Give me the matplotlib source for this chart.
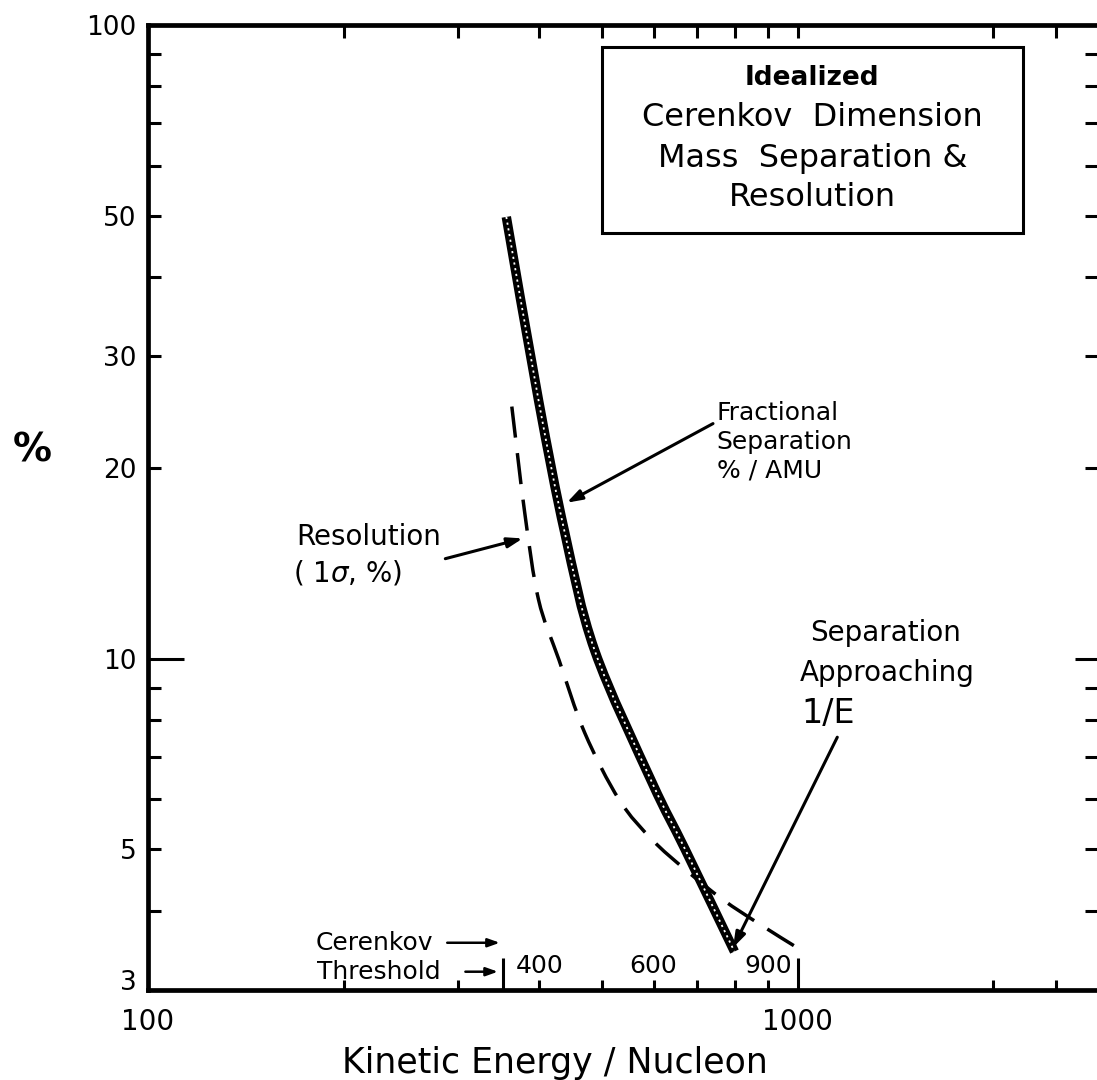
import numpy as np
import matplotlib
matplotlib.use("Agg")
import matplotlib.pyplot as plt
from matplotlib.ticker import FixedLocator, FixedFormatter, NullLocator
from matplotlib.patches import Rectangle, PathPatch
from matplotlib.path import Path

plt.rcParams['font.family'] = ['DejaVu Sans']

# Kinetic energy per nucleon (MeV/n) and curve values (%)
frac_energy = [356, 399, 438, 487, 597, 671, 799]
frac_sep = [49.8, 25.6, 15.8, 10.3, 6.37, 5.00, 3.45]

res_energy = [363, 380, 399, 429, 470, 531, 597, 671, 766, 874, 993]
res_sigma = [25.0, 17.0, 12.4, 9.96, 7.64, 5.99, 5.18, 4.65, 4.17, 3.81, 3.51]

threshold_energy = 352

y_ticks = [3, 4, 5, 6, 7, 8, 9, 10, 20, 30, 40, 50, 60, 70, 80, 90, 100]
y_labels = ['3', '', '5', '', '', '', '', '10', '20', '30', '', '50', '', '', '', '', '100']
x_ticks = [100, 200, 300, threshold_energy, 400, 500, 600, 700, 800, 900, 1000, 2000, 2500]
x_labels = ['100', '', '', '', '', '', '', '', '', '', '1000', '', '']
inner_x_labels = [400, 600, 900]


def smooth_path(xs, ys):
    """Hand-drawn style curve: cubic Bezier segments through the points in log-log space."""
    pts = np.column_stack([np.log10(xs), np.log10(ys)])
    n = len(pts)
    verts = [pts[0]]
    codes = [Path.MOVETO]
    for i in range(n - 1):
        p0 = pts[i - 1] if i > 0 else pts[i]
        p1, p2 = pts[i], pts[i + 1]
        p3 = pts[i + 2] if i + 2 < n else pts[i + 1]
        verts += [p1 + (p2 - p0) / 6.0, p2 - (p3 - p1) / 6.0, p2]
        codes += [Path.CURVE4] * 3
    return Path(10.0 ** np.array(verts), codes)


fig = plt.figure(figsize=(10.97, 10.80), dpi=100)
ax = fig.add_axes([0.1349, 0.0833, 0.8715, 0.8935])
ax.set_xscale('log')
ax.set_yscale('log')
ax.set_xlim(100, 2960)
ax.set_ylim(3, 100)

for s in ax.spines.values():
    s.set_linewidth(3.4)

ax.xaxis.set_major_locator(FixedLocator(x_ticks))
ax.xaxis.set_major_formatter(FixedFormatter(x_labels))
ax.xaxis.set_minor_locator(NullLocator())
ax.yaxis.set_major_locator(FixedLocator(y_ticks))
ax.yaxis.set_major_formatter(FixedFormatter(y_labels))
ax.yaxis.set_minor_locator(NullLocator())

ax.tick_params(axis='both', which='major', direction='in', width=2.2,
               length=9, top=True, right=True)
ax.tick_params(axis='y', pad=8, labelsize=19)
ax.tick_params(axis='x', pad=13, labelsize=20)

# the lowest y label sits a little above its tick, clear of the x labels
ax.yaxis.get_major_ticks()[0].label1.set_verticalalignment('baseline')

# longer ticks at 10 % and at 1000 / threshold
for val, t in zip(y_ticks, ax.yaxis.get_major_ticks()):
    if val == 10:
        t.tick1line.set_markersize(26)
        t.tick2line.set_markersize(21)
    else:
        t.tick2line.set_markersize(14)
for val, t in zip(x_ticks, ax.xaxis.get_major_ticks()):
    if val in (threshold_energy, 1000):
        t.tick1line.set_markersize(23)
        t.tick2line.set_markersize(0 if val == threshold_energy else 9)
    else:
        t.tick1line.set_markersize(7)

# fractional separation: heavy band with a broken light core
frac_path = smooth_path(frac_energy, frac_sep)
ax.add_patch(PathPatch(frac_path, fill=False, edgecolor='black', lw=6.8,
                       capstyle='butt', zorder=3))
ax.add_patch(PathPatch(frac_path, fill=False, edgecolor='white', lw=1.3,
                       ls=(0, (1.2, 2.0)), zorder=4))

# resolution: dashed
ax.add_patch(PathPatch(smooth_path(res_energy, res_sigma), fill=False, edgecolor='black',
                       lw=2.5, ls=(0, (9, 4.5)), zorder=3))

tf = ax.transAxes
arrow_kw = dict(arrowstyle='-|>,head_length=0.9,head_width=0.3', color='black', lw=2.2,
                shrinkA=0, shrinkB=0)

# title box
ax.add_patch(Rectangle((0.475, 0.784), 0.440, 0.193, transform=tf, fill=False,
                       lw=2.2, edgecolor='black', zorder=2))
box_lines = ['Idealized', 'Cerenkov  Dimension', 'Mass  Separation &', 'Resolution']
box_y = [0.945, 0.904, 0.862, 0.821]
box_size = [19, 23, 23, 23]
box_weight = ['bold', 'normal', 'normal', 'normal']
for txt, yy, fs, fw in zip(box_lines, box_y, box_size, box_weight):
    ax.text(0.695, yy, txt, transform=tf, ha='center', va='center', fontsize=fs,
            fontweight=fw)

# fractional separation label
for txt, yy in zip(['Fractional', 'Separation', '% / AMU'], [0.598, 0.568, 0.538]):
    ax.text(0.595, yy, txt, transform=tf, ha='left', va='center', fontsize=18)
ax.annotate('', xy=(0.438, 0.505), xytext=(0.591, 0.587), xycoords=tf, textcoords=tf,
            arrowprops=arrow_kw)

# resolution label
ax.text(0.155, 0.469, 'Resolution', transform=tf, ha='left', va='center', fontsize=20)
ax.text(0.152, 0.432, '( 1$\\sigma$, %)', transform=tf, ha='left', va='center', fontsize=20)
ax.annotate('', xy=(0.392, 0.468), xytext=(0.311, 0.447), xycoords=tf, textcoords=tf,
            arrowprops=arrow_kw)

# separation approaching 1/E
ax.text(0.772, 0.370, 'Separation', transform=tf, ha='center', va='center', fontsize=20)
ax.text(0.773, 0.329, 'Approaching', transform=tf, ha='center', va='center', fontsize=20)
ax.text(0.683, 0.287, '1/E', transform=tf, ha='left', va='center', fontsize=24)
ax.annotate('', xy=(0.612, 0.044), xytext=(0.721, 0.262), xycoords=tf, textcoords=tf,
            arrowprops=arrow_kw)

# Cerenkov threshold marker
ax.text(0.175, 0.049, 'Cerenkov', transform=tf, ha='left', va='center', fontsize=18)
ax.text(0.177, 0.019, 'Threshold', transform=tf, ha='left', va='center', fontsize=18)
small_arrow = dict(arrowstyle='-|>,head_length=0.7,head_width=0.25',
                   color='black', lw=1.8, shrinkA=0, shrinkB=0)
ax.annotate('', xy=(0.368, 0.049), xytext=(0.313, 0.049), xycoords=tf, textcoords=tf,
            arrowprops=small_arrow)
ax.annotate('', xy=(0.366, 0.019), xytext=(0.332, 0.019), xycoords=tf, textcoords=tf,
            arrowprops=small_arrow)

# energy labels just above the axis
for e in inner_x_labels:
    ax.text(e, 0.025, str(e), transform=ax.get_xaxis_transform(), ha='center',
            va='center', fontsize=18)

fig.text(0.029, 0.583, '%', ha='center', va='center', fontsize=28, fontweight='bold')
fig.text(0.506, 0.016, 'Kinetic Energy / Nucleon', ha='center', va='center', fontsize=25)

fig.savefig('out.png', dpi=100)
